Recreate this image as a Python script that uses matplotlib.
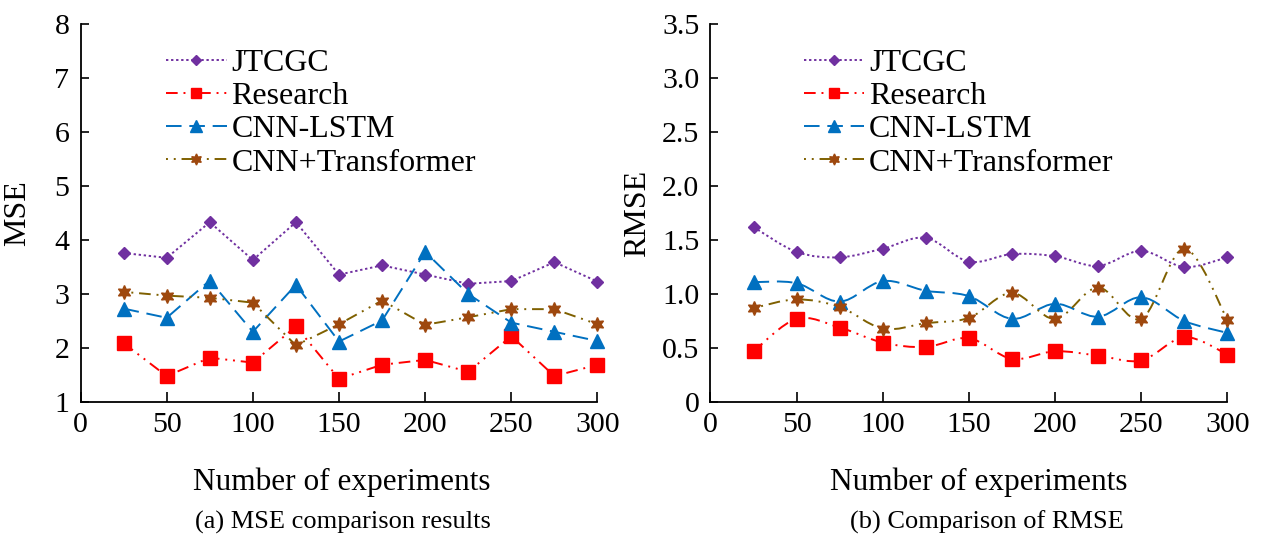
import numpy as np
import matplotlib
matplotlib.use("Agg")
import matplotlib.pyplot as plt
from matplotlib.path import Path
from matplotlib.patches import PathPatch
from matplotlib.lines import Line2D

plt.rcParams['font.family'] = ['Liberation Serif', 'DejaVu Serif']

runs = [25, 50, 75, 100, 125, 150, 175, 200, 225, 250, 275, 300]
names = ["JTCGC", "Research", "CNN-LSTM", "CNN+Transformer"]

# MSE (a)
mse_jtcgc = [3.76, 3.67, 4.33, 3.63, 4.33, 3.36, 3.53, 3.36, 3.19, 3.24, 3.59, 3.23]
mse_research = [2.09, 1.48, 1.82, 1.73, 2.40, 1.43, 1.69, 1.78, 1.56, 2.22, 1.48, 1.69]
mse_lstm = [2.73, 2.56, 3.25, 2.30, 3.17, 2.12, 2.51, 3.78, 3.00, 2.47, 2.30, 2.13]
mse_trans = [3.04, 2.97, 2.93, 2.84, 2.05, 2.44, 2.88, 2.43, 2.57, 2.72, 2.72, 2.44]

# RMSE (b)
rmse_jtcgc = [1.62, 1.39, 1.34, 1.42, 1.52, 1.30, 1.37, 1.35, 1.26, 1.40, 1.25, 1.34]
rmse_research = [0.47, 0.77, 0.69, 0.55, 0.51, 0.59, 0.40, 0.47, 0.43, 0.385, 0.60, 0.44]
rmse_lstm = [1.11, 1.10, 0.93, 1.12, 1.03, 0.98, 0.77, 0.91, 0.79, 0.97, 0.75, 0.64]
rmse_trans = [0.87, 0.95, 0.88, 0.68, 0.73, 0.78, 1.01, 0.77, 1.06, 0.77, 1.42, 0.76]

styles = [
    dict(color='#7030A0', ls=(0, (1.2, 1.4)), marker='D', ms=6.5, mfc='#7030A0', mec='#7030A0'),
    dict(color='#FF0000', ls=(0, (6, 3, 1, 3, 1, 3)), marker='s', ms=9.5, mfc='#FF0000', mec='#FF0000'),
    dict(color='#0070C0', ls=(0, (8, 4)), marker='^', ms=10, mfc='#0070C0', mec='#0070C0'),
    dict(color='#7F6000', ls=(0, (1, 3, 1, 3, 6, 3)), marker=(6, 1, 0), ms=10, mfc='#9E480E', mec='#9E480E'),
]


def smooth_path(xs, ys):
    # catmull-rom as cubic bezier segments
    p = np.column_stack([xs, ys]).astype(float)
    pts = [p[0]]
    codes = [Path.MOVETO]
    n = len(p)
    for i in range(n - 1):
        p0 = p[i - 1] if i > 0 else p[i]
        p3 = p[i + 2] if i + 2 < n else p[i + 1]
        c1 = p[i] + (p[i + 1] - p0) / 6
        c2 = p[i + 1] - (p3 - p[i]) / 6
        pts += [c1, c2, p[i + 1]]
        codes += [Path.CURVE4] * 3
    return Path(pts, codes)


def panel(ax, series, ylim, yticks, ylabels, smooth, legx):
    for y, st in zip(series, styles):
        if smooth:
            ax.add_patch(PathPatch(smooth_path(runs, y), fill=False, edgecolor=st['color'],
                                   lw=1.4, linestyle=st['ls'], zorder=2))
        else:
            ax.plot(runs, y, color=st['color'], lw=1.4, linestyle=st['ls'], zorder=2)
        ax.plot(runs, y, ls='none', marker=st['marker'], ms=st['ms'],
                mfc=st['mfc'], mec=st['mec'], zorder=3, clip_on=False)
    ax.set_xlim(0, 300)
    ax.set_ylim(*ylim)
    ax.set_xticks([0, 50, 100, 150, 200, 250, 300])
    ax.set_yticks(yticks)
    ax.set_yticklabels(ylabels)
    for s in ['top', 'right']:
        ax.spines[s].set_visible(False)
    for s in ['left', 'bottom']:
        ax.spines[s].set_linewidth(1.3)
    ax.tick_params(axis='both', direction='in', width=1.2, labelsize=21.5)
    ax.tick_params(axis='y', length=6, pad=8)
    ax.tick_params(axis='x', length=7, pad=7)
    handles = [Line2D([], [], color=st['color'], lw=1.4, linestyle=st['ls'], marker=st['marker'],
                      ms=st['ms'] * 0.8, mfc=st['mfc'], mec=st['mec']) for st in styles]
    ax.legend(handles, names, loc='upper left', bbox_to_anchor=(legx, 0.935), frameon=False,
              fontsize=23, handlelength=1.9, handletextpad=0.15, labelspacing=0.12,
              borderpad=0, borderaxespad=0)


fig = plt.figure(figsize=(12.64, 5.46), dpi=100)
ax1 = fig.add_axes([0.0637, 0.2637, 0.409, 0.6923])
ax2 = fig.add_axes([0.5621, 0.2637, 0.409, 0.6923])

panel(ax1, [mse_jtcgc, mse_research, mse_lstm, mse_trans], (1, 8), range(1, 9),
      [str(v) for v in range(1, 9)], False, 0.165)
panel(ax2, [rmse_jtcgc, rmse_research, rmse_lstm, rmse_trans], (0, 3.5),
      np.arange(0, 3.51, 0.5), ['0', '0.5', '1.0', '1.5', '2.0', '2.5', '3.0', '3.5'], True, 0.18)

ax1.set_ylabel('MSE', fontsize=23)
ax1.yaxis.set_label_coords(-0.094, 0.5)
ax2.set_ylabel('RMSE', fontsize=23)
ax2.yaxis.set_label_coords(-0.113, 0.5)

fig.text(342 / 1264, 1 - 482 / 546, 'Number of experiments', fontsize=22.5, ha='center', va='center')
fig.text(979 / 1264, 1 - 482 / 546, 'Number of experiments', fontsize=22.5, ha='center', va='center')
fig.text(343 / 1264, 1 - 522 / 546, '(a) MSE comparison results', fontsize=19, ha='center', va='center')
fig.text(987 / 1264, 1 - 522 / 546, '(b) Comparison of RMSE', fontsize=19, ha='center', va='center')

fig.savefig('out.png', dpi=100)
